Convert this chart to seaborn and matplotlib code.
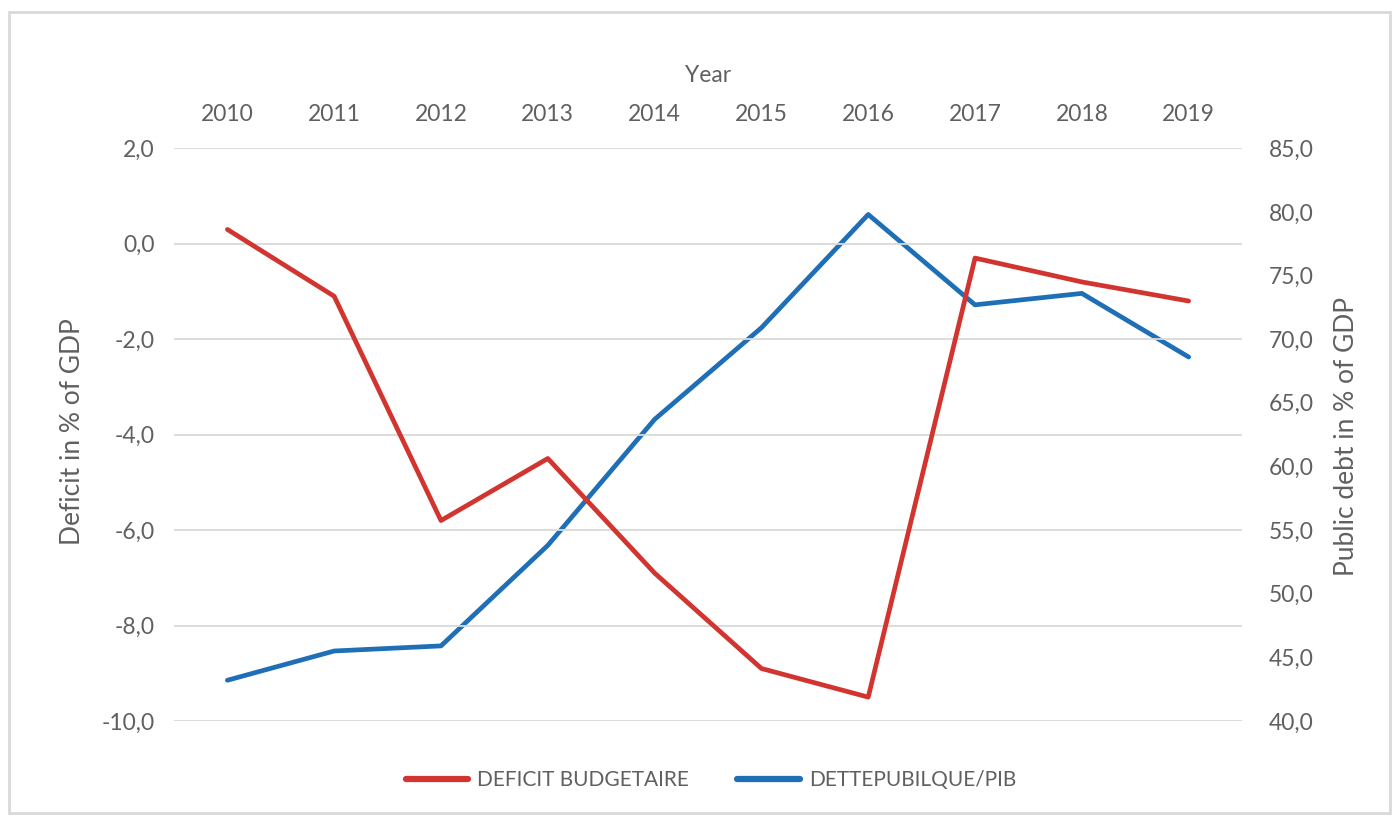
import matplotlib
matplotlib.use("Agg")
import matplotlib.pyplot as plt
import matplotlib.patches as mpatches
import seaborn as sns
import pandas as pd

# Annual figures
years = [2010, 2011, 2012, 2013, 2014, 2015, 2016, 2017, 2018, 2019]
deficit = [0.3, -1.1, -5.8, -4.5, -6.9, -8.9, -9.5, -0.3, -0.8, -1.2]
public_debt = [43.2, 45.5, 45.9, 53.8, 63.7, 70.9, 79.8, 72.7, 73.6, 68.6]

deficit_ticks = [2.0, 0.0, -2.0, -4.0, -6.0, -8.0, -10.0]
debt_ticks = [85.0, 80.0, 75.0, 70.0, 65.0, 60.0, 55.0, 50.0, 45.0, 40.0]

RED = "#d2342f"
BLUE = "#1f6fb6"
TEXT = "#606060"
GRID = "#d9d9d9"

sns.set_theme(style="white")
plt.rcParams["font.family"] = ["Lato", "DejaVu Sans"]

df = pd.DataFrame({"year": years, "deficit": deficit, "debt": public_debt})

fig = plt.figure(figsize=(13.94, 8.18), dpi=100)
ax = fig.add_axes([0.1248, 0.1186, 0.7662, 0.7001])
ax2 = ax.twinx()

sns.lineplot(data=df, x="year", y="deficit", ax=ax, color=RED, lw=3.4,
             label="DEFICIT BUDGETAIRE", legend=False)
sns.lineplot(data=df, x="year", y="debt", ax=ax2, color=BLUE, lw=3.4,
             label="DETTEPUBILQUE/PIB", legend=False)

def fmt(v):
    return f"{v:.1f}".replace(".", ",")

ax.set_xlim(2009.5, 2019.5)
ax.set_ylim(-10, 2)
ax2.set_ylim(40, 85)
ax.set_yticks(deficit_ticks)
ax.set_yticklabels([fmt(v) for v in deficit_ticks])
ax2.set_yticks(debt_ticks)
ax2.set_yticklabels([fmt(v) for v in debt_ticks])
ax.set_xticks(years)
ax.set_xticklabels([str(y) for y in years])

ax.xaxis.tick_top()
ax.tick_params(axis="x", length=0, pad=17, labelsize=16.5, labelcolor=TEXT)
ax.tick_params(axis="y", length=0, pad=14, labelsize=16.5, labelcolor=TEXT)
ax2.tick_params(axis="y", length=0, pad=19, labelsize=16.5, labelcolor=TEXT)

ax.grid(axis="y", color=GRID, lw=1.3)
ax.grid(axis="x", visible=False)
ax2.grid(False)
for a in (ax, ax2):
    for s in a.spines.values():
        s.set_visible(False)
    a.set_xlabel("")
    a.set_ylabel("")
ax.set_zorder(ax2.get_zorder() + 1)
ax.patch.set_visible(False)

fig.text(708 / 1394, 1 - 75 / 818, "Year", ha="center", va="center",
         fontsize=16.5, color=TEXT)
fig.text(72 / 1394, 1 - 432 / 818, "Deficit in % of GDP", ha="center",
         va="center", rotation=90, fontsize=19, color=TEXT)
fig.text(1346 / 1394, 1 - 437 / 818, "Public debt in % of GDP", ha="center",
         va="center", rotation=90, fontsize=19, color=TEXT)

handles = ax.get_lines()[:1] + ax2.get_lines()[:1]
labels = ["DEFICIT BUDGETAIRE", "DETTEPUBILQUE/PIB"]
leg = fig.legend(handles, labels, loc="center", bbox_to_anchor=(711 / 1394, 1 - 780 / 818),
                 ncol=2, frameon=False, fontsize=15, handlelength=3.0,
                 handletextpad=0.45, columnspacing=2.3)
for t in leg.get_texts():
    t.set_color(TEXT)
for h in leg.legend_handles:
    h.set_linewidth(4.5)

# Outer chart frame
fig.patches.append(mpatches.Rectangle((9 / 1394, 1 - 813 / 818), 1381 / 1394, 801 / 818,
                                      transform=fig.transFigure, fill=False,
                                      edgecolor="#d9d9d9", lw=2.0))

fig.savefig("out.png", dpi=100, facecolor="white")
